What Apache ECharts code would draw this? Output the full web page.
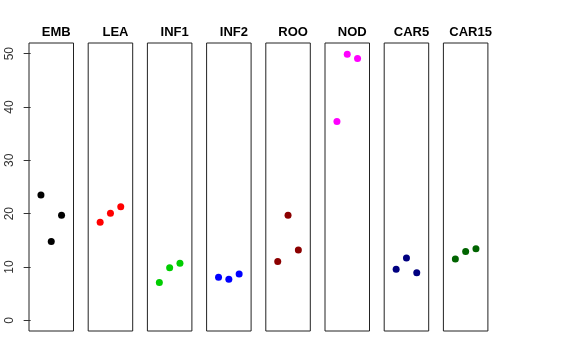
<!DOCTYPE html>
<html><head><meta charset="utf-8">
<script src="https://cdn.jsdelivr.net/npm/echarts@6/dist/echarts.min.js"></script>
<style>html,body{margin:0;padding:0;background:#fff}#c{width:576px;height:360px}</style>
</head><body><div id="c"></div>
<script>
const categories = ['EMB','LEA','INF1','INF2','ROO','NOD','CAR5','CAR15'];
const colors = ['#000000','#FF0000','#00CD00','#0000FF','#8B0000','#FF00FF','#000080','#006400'];
const xPositions = [1, 2, 3];
const EMB = [23.5, 14.8, 19.7];
const LEA = [18.4, 20.1, 21.3];
const INF1 = [7.1, 9.85, 10.7];
const INF2 = [8.1, 7.7, 8.7];
const ROO = [11.05, 19.7, 13.2];
const NOD = [37.3, 49.9, 49.1];
const CAR5 = [9.6, 11.7, 8.9];
const CAR15 = [11.5, 12.9, 13.4];
const seriesValues = [EMB, LEA, INF1, INF2, ROO, NOD, CAR5, CAR15];
const yTicks = [0, 10, 20, 30, 40, 50];

const grids = [], xAxes = [], yAxes = [], series = [], titles = [];
categories.forEach((name, i) => {
  const left = 29 + i * 59.2;
  const w = 44.5;
  grids.push({left: left, top: 43, width: w, height: 288, show: true, borderColor: '#222', borderWidth: 1, backgroundColor: 'transparent'});
  xAxes.push({gridIndex: i, type: 'value', min: -0.16, max: 4.16, show: false});
  const first = i === 0;
  yAxes.push({gridIndex: i, type: 'value', min: -2, max: 52,
    splitLine: {show: false}, axisLine: {show: false},
    axisTick: {show: first, customValues: yTicks, length: 7, lineStyle: {color: '#333'}},
    axisLabel: {show: first, customValues: yTicks, rotate: 90, margin: 13, fontSize: 12, color: '#333', fontFamily: 'Liberation Sans, Arial, sans-serif'}
  });
  series.push({type: 'scatter', xAxisIndex: i, yAxisIndex: i, symbolSize: 7,
    itemStyle: {color: colors[i], opacity: 1},
    data: xPositions.map((x, k) => [x, seriesValues[i][k]])});
  titles.push({text: name, left: left + w / 2, top: 21, textAlign: 'center',
    textStyle: {fontSize: 13, fontWeight: 'bold', color: '#000', fontFamily: 'Liberation Sans, Arial, sans-serif'}});
});

const chart = echarts.init(document.getElementById('c'), null, {renderer: 'canvas'});
chart.setOption({animation: false, title: titles, grid: grids, xAxis: xAxes, yAxis: yAxes, series: series});
</script></body></html>
